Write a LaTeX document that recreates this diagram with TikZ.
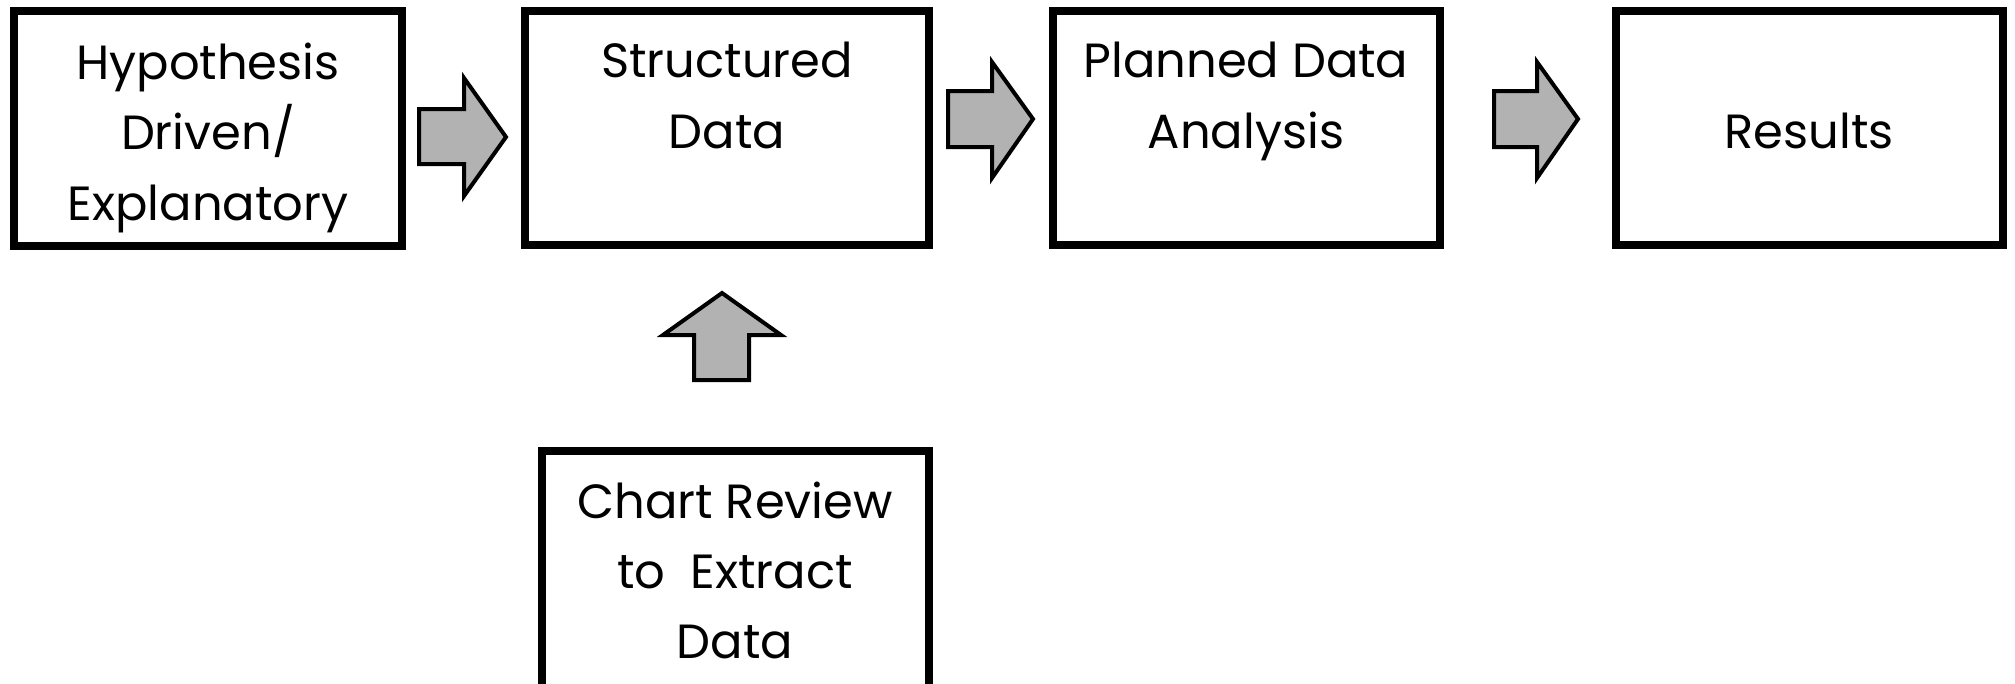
\documentclass[tikz,border=0pt]{standalone}
\usepackage{fontspec}
\setmainfont{Poppins}
\definecolor{arrowgray}{RGB}{178,178,178}
\begin{document}
\begin{tikzpicture}[x=1pt,y=-1pt,
  box/.style={draw=black,line width=8.5pt,fill=white},
  blk/.style={draw=black,line width=4pt,fill=arrowgray,line join=miter},
  lbl/.style={inner sep=0pt,anchor=base,font=\fontsize{48}{70}\selectfont}]
\useasboundingbox (0,0) rectangle (2015,683);
% boxes
\draw[box] (14,11) rectangle (402,246) coordinate (b1);
\draw[box] (525,11) rectangle (929,245) coordinate (b2);
\draw[box] (1053,11) rectangle (1440,245) coordinate (b3);
\draw[box] (1616,11) rectangle (2003,245) coordinate (b4);
\draw[box] (542,451) rectangle (929,720) coordinate (b5);
% texts
\node[lbl] (h1) at (208,79) {Hypothesis};
\node[lbl] (h2) at (208,149) {Driven/};
\node[lbl] (h3) at (208,220) {Explanatory};
\node[lbl] (s1) at (727,77) {Structured};
\node[lbl] (s2) at (727,148) {Data};
\node[lbl] (p1) at (1246,77) {Planned Data};
\node[lbl] (p2) at (1246,148) {Analysis};
\node[lbl] (r1) at (1809,148) {Results};
\node[lbl] (c1) at (735,518) {Chart Review};
\node[lbl] (c2) at (735,588) {to\ \ Extract};
\node[lbl] (c3) at (735,658) {Data};
% block arrows
\draw[blk] (419,109) -- (464,109) -- (464,78) -- (506,137) -- (464,196) -- (464,164) -- (419,164) -- cycle;
\draw[blk] (948,91) -- (992,91) -- (992,62) -- (1033,119) -- (992,178) -- (992,147) -- (948,147) -- cycle;
\draw[blk] (1494,91) -- (1537,91) -- (1537,62) -- (1578,119) -- (1537,178) -- (1537,147) -- (1494,147) -- cycle;
\draw[blk] (694,380) -- (694,335) -- (663,335) -- (722,293) -- (781,335) -- (749,335) -- (749,380) -- cycle;
\end{tikzpicture}
\end{document}
